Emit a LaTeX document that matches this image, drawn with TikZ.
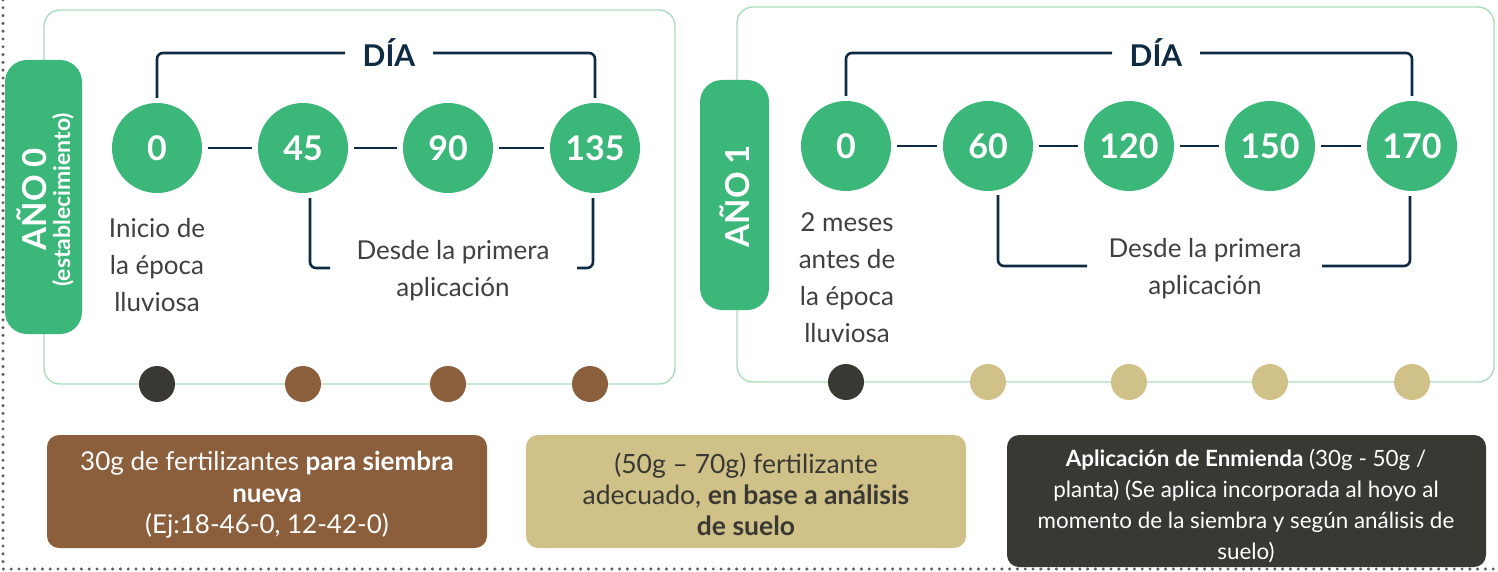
\documentclass[tikz,border=0pt]{standalone}
\usepackage{fontspec}
\setmainfont{Lato}
\usetikzlibrary{calc}
\definecolor{grn}{HTML}{3BB77A}
\definecolor{pnl}{HTML}{A9DDBA}
\definecolor{navy}{HTML}{0E2B43}
\definecolor{txtg}{HTML}{404040}
\definecolor{brn}{HTML}{8B5E3C}
\definecolor{tan}{HTML}{CFC188}
\definecolor{drk}{HTML}{393832}
\definecolor{brd}{HTML}{606060}
\newcommand{\fs}[2]{\fontsize{#1}{#2}\selectfont}
\begin{document}
\begin{tikzpicture}[x=1pt,y=-1pt,
  panel/.style={draw=pnl, line width=1.4pt, rounded corners=16pt},
  yearbox/.style={fill=grn, rounded corners=22pt},
  num/.style={circle, fill=grn, minimum size=90pt, inner sep=0pt, text=white, font=\bfseries\fs{34}{34}},
  conn/.style={draw=navy, line width=2.6pt, shorten >=6pt, shorten <=6pt},
  br/.style={draw=navy, line width=2.6pt, rounded corners=6pt},
  dia/.style={text=navy, font=\bfseries\fs{30}{30}, inner xsep=0pt, inner ysep=0pt},
  desc/.style={text=txtg, font=\fs{26}{37}, align=center, inner sep=0pt},
  dot/.style={circle, minimum size=36pt, inner sep=0pt},
  infobox/.style={rounded corners=12pt, align=center, inner sep=0pt}
]
\useasboundingbox (0,0) rectangle (1498,572);
% dotted frame
\draw[brd, line width=3.4pt, dash pattern=on 0pt off 7.8pt, line cap=round] (3,0) -- (3,569) -- (1498,569);

% panels
\draw[panel] (44,10) rectangle (675,384);
\draw[panel] (737,7) rectangle (1494,382);

% year labels
\fill[yearbox] (5,60) rectangle (82,334);
\node[rotate=90, text=white, font=\bfseries\fs{33}{33}, inner sep=0pt] (y0) at (32,199) {AÑO 0};
\node[rotate=90, text=white, font=\bfseries\fs{23}{23}, inner sep=0pt] (y0b) at (63,200) {(establecimiento)};
\fill[yearbox] (700,80) rectangle (769,310);
\node[rotate=90, text=white, font=\bfseries\fs{33}{33}, inner sep=0pt] (y1) at (735,196) {AÑO 1};

% panel 1 circles
\node[num] (a0) at (157,148) {0};
\node[num] (a45) at (303,148) {45};
\node[num] (a90) at (448,148) {90};
\node[num] (a135) at (595,148) {135};
\draw[conn] (a0) -- (a45);
\draw[conn] (a45) -- (a90);
\draw[conn] (a90) -- (a135);

% panel 2 circles
\node[num] (b0) at (846,146) {0};
\node[num] (b60) at (988,146) {60};
\node[num] (b120) at (1129,146) {120};
\node[num] (b150) at (1270,146) {150};
\node[num] (b170) at (1412,146) {170};
\draw[conn] (b0) -- (b60);
\draw[conn] (b60) -- (b120);
\draw[conn] (b120) -- (b150);
\draw[conn] (b150) -- (b170);

% DIA brackets
\node[dia] (dia1) at (389,53) {DÍA};
\coordinate (d1l) at (345,53);
\coordinate (d1r) at (433,53);
\draw[br, shorten <=5pt] (a0.north) |- (d1l);
\draw[br, shorten >=5pt] (d1r) -| (a135.north);

\node[dia] (dia2) at (1156,53) {DÍA};
\coordinate (d2l) at (1112,53);
\coordinate (d2r) at (1200,53);
\draw[br, shorten <=5pt] (b0.north) |- (d2l);
\draw[br, shorten >=5pt] (d2r) -| (b170.north);

% descriptions under first circle
\node[desc] (i1) at (157,265) {Inicio de\\la época\\lluviosa};
\node[desc] (i2) at (847,278) {2 meses\\antes de\\la época\\lluviosa};

% "Desde la primera aplicación" brackets
\node[desc] (s1) at (453,271) {Desde la primera\\aplicación};
\coordinate (s1l) at (330,268);
\coordinate (s1r) at (577,268);
\draw[br] ([xshift=7pt,yshift=-5pt]a45.south) |- (s1l);
\draw[br] (s1r) -| ([xshift=-2pt,yshift=-5pt]a135.south);

\node[desc] (s2) at (1205,269) {Desde la primera\\aplicación};
\coordinate (s2l) at (1087,266);
\coordinate (s2r) at (1322,266);
\draw[br] ([xshift=10pt,yshift=-4pt]b60.south) |- (s2l);
\draw[br] (s2r) -| ([xshift=-2pt,yshift=-5pt]b170.south);

% timeline dots
\node[dot, fill=drk] (c0) at (157,384) {};
\node[dot, fill=brn] (c45) at (303,384) {};
\node[dot, fill=brn] (c90) at (448,384) {};
\node[dot, fill=brn] (c135) at (590,384) {};
\node[dot, fill=drk] (e0) at (846,382) {};
\node[dot, fill=tan] (e60) at (988,382) {};
\node[dot, fill=tan] (e120) at (1129,382) {};
\node[dot, fill=tan] (e150) at (1270,382) {};
\node[dot, fill=tan] (e170) at (1412,382) {};

% info boxes
\fill[brn, rounded corners=12pt] (47,435) rectangle (487,548);
\node[infobox, text=white, font=\fs{26}{31.5}] (t1) at (267,495) {30g de fertilizantes \textbf{para siembra}\\\textbf{nueva}\\(Ej:18-46-0, 12-42-0)};
\fill[tan, rounded corners=12pt] (526,435) rectangle (966,548);
\node[infobox, text=drk, font=\fs{26.5}{31}] (t2) at (746,494) {(50g – 70g) fertilizante\\adecuado, \textbf{en base a análisis}\\\textbf{de suelo}};
\fill[drk, rounded corners=12pt] (1007,435) rectangle (1486,567);
\node[infobox, text=white, font=\fs{22.4}{30.7}] (t3) at (1246,506) {\textbf{Aplicación de Enmienda} (30g - 50g /\\planta) (Se aplica incorporada al hoyo al\\momento de la siembra y según análisis de\\suelo)};
\end{tikzpicture}
\end{document}
